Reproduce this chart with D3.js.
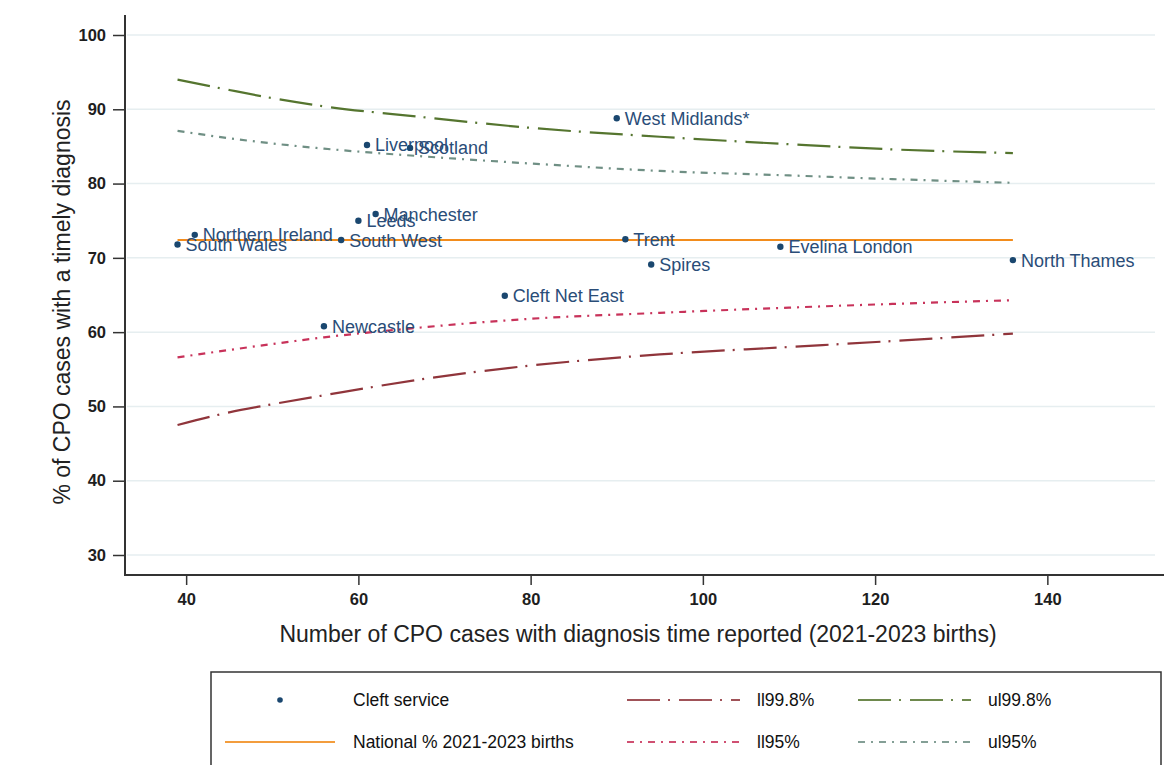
<!DOCTYPE html>
<html>
<head>
<meta charset="utf-8">
<script src="https://cdn.jsdelivr.net/npm/d3@7"></script>
<style>
  body { margin: 0; background: #fff; }
  svg { display: block; font-family: "Liberation Sans", Arial, sans-serif; }
</style>
</head>
<body>
<svg id="chart" width="1164" height="765"></svg>
<script>
// cleft services: cases with diagnosis time reported, % timely
var serviceNames = ["South Wales", "Northern Ireland", "South West", "Leeds", "Manchester",
  "Liverpool", "Scotland", "Newcastle", "Cleft Net East", "West Midlands*", "Trent",
  "Spires", "Evelina London", "North Thames"];
var serviceCases = [39, 41, 58, 60, 62, 61, 66, 56, 77, 90, 91, 94, 109, 136];
var serviceTimely = [71.8, 73.1, 72.4, 75.0, 75.9, 85.2, 84.8, 60.8, 64.9, 88.8, 72.5, 69.1, 71.5, 69.7];

// national proportion
var nationalPct = 72.4;
var nationalCases = [39, 136];

// funnel limits
var limitCases = [39, 45, 50, 56, 67, 80, 95, 110, 122, 136];
var ll998 = [47.5, 49.2, 50.3, 51.5, 53.6, 55.5, 57.0, 58.0, 58.8, 59.8];
var ul998 = [94.0, 92.6, 91.5, 90.4, 89.0, 87.5, 86.3, 85.3, 84.6, 84.1];
var ll95 = [56.6, 57.6, 58.4, 59.3, 60.6, 61.8, 62.6, 63.3, 63.8, 64.3];
var ul95 = [87.1, 86.1, 85.4, 84.7, 83.7, 82.7, 81.7, 81.1, 80.6, 80.1];

var xTicks = [40, 60, 80, 100, 120, 140];
var yTicks = [30, 40, 50, 60, 70, 80, 90, 100];

var svg = d3.select("#chart");

var x = d3.scaleLinear().domain([32.9, 152.5]).range([125, 1155]);
var y = d3.scaleLinear().domain([30, 100]).range([555, 35]);
var yBottom = 575, yTop = 15;

// grid
svg.append("g").selectAll("line")
  .data(yTicks).enter().append("line")
  .attr("x1", 127).attr("x2", 1155)
  .attr("y1", function(d){ return y(d); }).attr("y2", function(d){ return y(d); })
  .style("stroke", "#e6eef0").style("stroke-width", 1.5);

// axes
var yAxis = d3.axisLeft(y).tickValues(yTicks).tickSize(12).tickPadding(7);
var gy = svg.append("g").attr("transform", "translate(125,0)").call(yAxis);
gy.select(".domain").remove();
gy.append("line").attr("x1", 0).attr("x2", 0).attr("y1", yTop).attr("y2", yBottom)
  .style("stroke", "#333").style("stroke-width", 2);

var xAxis = d3.axisBottom(x).tickValues(xTicks).tickSize(10).tickPadding(8);
var gx = svg.append("g").attr("transform", "translate(0," + yBottom + ")").call(xAxis);
gx.select(".domain").remove();
gx.append("line").attr("x1", 124).attr("x2", 1164).attr("y1", 0).attr("y2", 0)
  .style("stroke", "#333").style("stroke-width", 2);

svg.selectAll(".tick line").style("stroke", "#333").style("stroke-width", 1.5);
svg.selectAll(".tick text").style("font-size", "16.5px").style("font-weight", "bold")
  .style("fill", "#1e1e1e").style("font-family", "'Liberation Sans', Arial, sans-serif");

// axis titles
svg.append("text")
  .attr("transform", "translate(70,302) rotate(-90)")
  .attr("text-anchor", "middle")
  .style("font-size", "23px").style("fill", "#222")
  .text("% of CPO cases with a timely diagnosis");

svg.append("text")
  .attr("x", 638).attr("y", 642)
  .attr("text-anchor", "middle")
  .style("font-size", "23px").style("fill", "#222")
  .text("Number of CPO cases with diagnosis time reported (2021-2023 births)");

// limit lines
var series = [
  { vals: ll998, color: "#90353b", dash: "33,8,2,9", width: 2.2 },
  { vals: ul998, color: "#55752f", dash: "33,8,2,9", width: 2.2 },
  { vals: ll95, color: "#c8325a", dash: "7,6,2,6", width: 2.2 },
  { vals: ul95, color: "#6f8f84", dash: "7,6,2,6", width: 2.2 }
];
var line = d3.line().curve(d3.curveMonotoneX)
  .x(function(d){ return x(d[0]); }).y(function(d){ return y(d[1]); });

series.forEach(function(s) {
  svg.append("path")
    .datum(limitCases.map(function(n, i){ return [n, s.vals[i]]; }))
    .attr("d", line)
    .style("fill", "none").style("stroke", s.color)
    .style("stroke-width", s.width).style("stroke-dasharray", s.dash);
});

// national line
svg.append("path")
  .datum(nationalCases.map(function(n){ return [n, nationalPct]; }))
  .attr("d", line)
  .style("fill", "none").style("stroke", "#f28c1c").style("stroke-width", 2);

// services
var pts = svg.append("g").selectAll("g")
  .data(serviceNames).enter().append("g")
  .attr("transform", function(d, i){ return "translate(" + x(serviceCases[i]) + "," + y(serviceTimely[i]) + ")"; });
pts.append("circle").attr("r", 3.2).style("fill", "#1a476f");
pts.append("text").attr("x", 8).attr("dy", "0.36em")
  .style("font-size", "18px").style("fill", "#2a4d78")
  .text(function(d){ return d; });

// legend
var leg = svg.append("g");
leg.append("rect").attr("x", 211).attr("y", 672).attr("width", 950).attr("height", 120)
  .style("fill", "#fff").style("stroke", "#333").style("stroke-width", 1.5);

var legItems = [
  { label: "Cleft service", x: 225, y: 700, type: "dot" },
  { label: "National % 2021-2023 births", x: 225, y: 742, color: "#f28c1c", dash: null },
  { label: "ll99.8%", x: 627, y: 700, color: "#90353b", dash: "33,8,2,9" },
  { label: "ll95%", x: 627, y: 742, color: "#c8325a", dash: "7,6,2,6" },
  { label: "ul99.8%", x: 858, y: 700, color: "#55752f", dash: "33,8,2,9" },
  { label: "ul95%", x: 858, y: 742, color: "#6f8f84", dash: "7,6,2,6" }
];
legItems.forEach(function(it) {
  var w = it.x === 225 ? 110 : 113;
  if (it.type === "dot") {
    leg.append("circle").attr("cx", 280).attr("cy", it.y).attr("r", 2.8).style("fill", "#1a476f");
  } else {
    leg.append("line").attr("x1", it.x).attr("x2", it.x + w).attr("y1", it.y).attr("y2", it.y)
      .style("stroke", it.color).style("stroke-width", 2).style("opacity", 0.85)
      .style("stroke-dasharray", it.dash);
  }
  leg.append("text").attr("x", it.x === 225 ? 353 : it.x + 130).attr("y", it.y).attr("dy", "0.35em")
    .style("font-size", "17.5px").style("fill", "#111").text(it.label);
});
</script>
</body>
</html>
